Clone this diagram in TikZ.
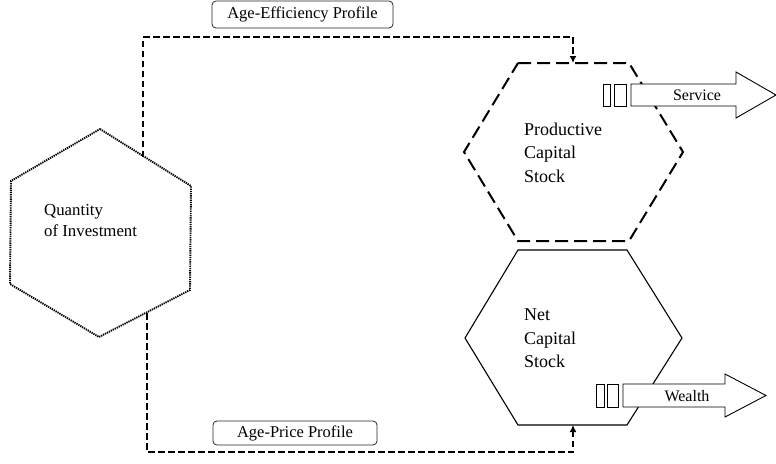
\documentclass[tikz,border=0pt]{standalone}
\usepackage{fontspec}
\setmainfont{Liberation Serif}
\usetikzlibrary{arrows.meta}
\begin{document}
\begin{tikzpicture}[x=1pt,y=-1pt,
  hextext/.style={font=\fontsize{18}{23.5}\selectfont, align=left, inner sep=0pt, anchor=north west},
  lbl/.style={draw=black!85, rounded corners=4pt, line width=0.8pt, font=\fontsize{16.5}{20}\selectfont, inner sep=0pt},
  conn/.style={line width=2.2pt, dash pattern=on 6.5pt off 3.5pt, -{Latex[length=7pt,width=7pt]}},
  dottedhex/.style={line width=1.9pt, dash pattern=on 1.3pt off 0.9pt},
  dashedhex/.style={line width=2pt, dash pattern=on 13pt off 6pt},
  solidhex/.style={line width=1.1pt},
  flow/.style={draw, fill=white, line width=0.9pt},
  flowtext/.style={font=\fontsize{16}{19}\selectfont, inner sep=0pt}
]
\useasboundingbox (0,0) rectangle (776,463);

% hexagons
\draw[dottedhex] (100,129) -- (191,186) -- (190,290) -- (99,337) -- (10,284) -- (11,181) -- cycle;
\draw[dashedhex] (518,63) -- (629,63) -- (683,152) -- (629,241) -- (518,241) -- (464,152) -- cycle;
\draw[solidhex] (518,250) -- (627,250) -- (682,338) -- (627,425) -- (518,425) -- (465,338) -- cycle;

% texts
\node[hextext, font=\fontsize{16.8}{21}\selectfont] (qi) at (44,204.5) {Quantity\\of Investment};
\node[hextext] (pcs) at (524,122.7) {Productive\\Capital\\Stock};
\node[hextext] (ncs) at (524,309) {Net\\Capital\\Stock};

% labels
\node[lbl, minimum width=181pt, minimum height=27pt] (aep) at (302.5,14.5) {Age-Efficiency Profile};
\node[lbl, minimum width=164pt, minimum height=24pt] (app) at (295,433) {Age-Price Profile};

% connector endpoints
\coordinate (qtop) at (143,157);
\coordinate (qbot) at (147,313);
\coordinate (pin) at (573,63);
\coordinate (nin) at (573,425);

\draw[conn] (qtop) -- (qtop |- 0,37) -| (pin);
\draw[conn] (qbot) -- (qbot |- 0,452) -| (nin);

% service arrow
\draw[flow] (603,84) rectangle (610,106);
\draw[flow] (614,84) rectangle (626,106);
\draw[flow] (631,84) -- (736,84) -- (736,72) -- (776,95) -- (736,118) -- (736,106) -- (631,106) -- cycle;
\node[flowtext] (svc) at (697,95) {Service};

% wealth arrow
\draw[flow] (596,384) rectangle (604,407);
\draw[flow] (607,384) rectangle (618,407);
\draw[flow] (623,384) -- (725,384) -- (725,374) -- (766,395.5) -- (725,417) -- (725,407) -- (623,407) -- cycle;
\node[flowtext] (wlt) at (687,396) {Wealth};
\end{tikzpicture}
\end{document}
